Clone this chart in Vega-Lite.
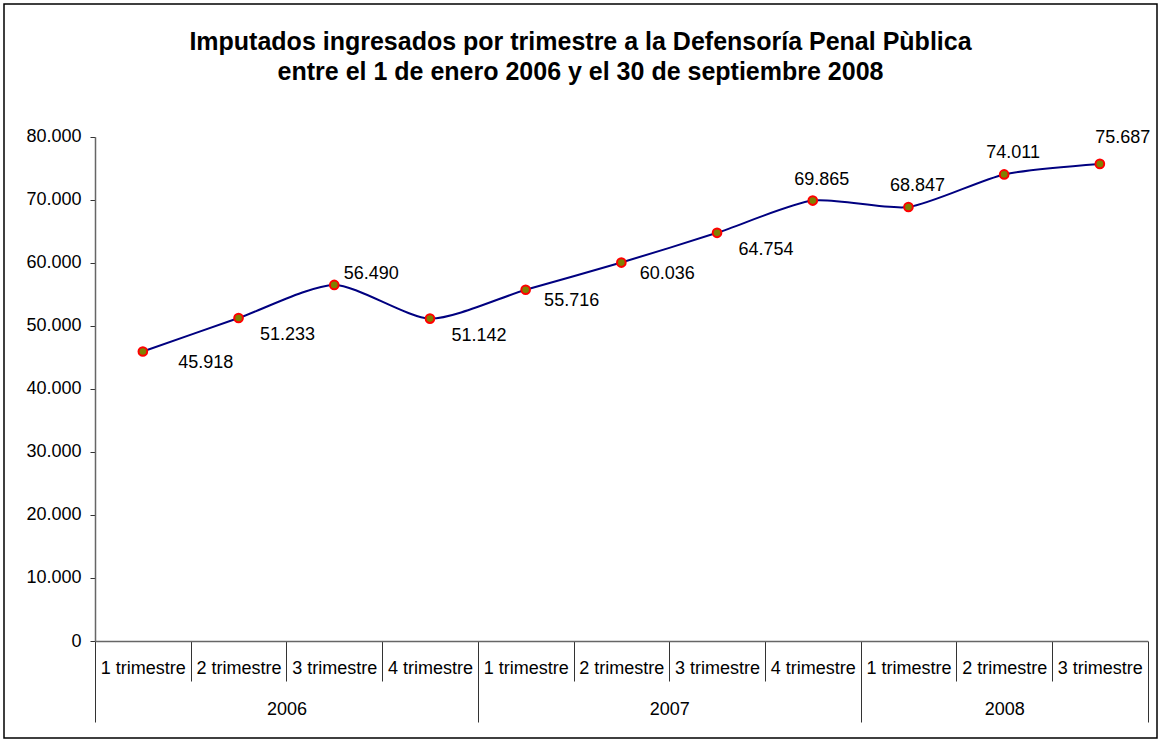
{
  "$schema": "https://vega.github.io/schema/vega-lite/v6.json",
  "autosize": {"type": "none"},
  "padding": 4,
  "width": 1153,
  "height": 734,
  "title": {
    "text": ["Imputados ingresados por trimestre a la Defensoría Penal Pùblica", "entre el 1 de enero 2006 y el 30 de septiembre 2008"],
    "anchor": "middle",
    "frame": "group",
    "baseline": "top",
    "offset": -81,
    "lineHeight": 30,
    "font": "Liberation Sans",
    "fontSize": 25,
    "fontWeight": "bold",
    "color": "#000000"
  },
  "data": {
    "values": [
      {"n": 1, "anio": 2006, "trimestre": "1 trimestre", "valor": 45918},
      {"n": 2, "anio": 2006, "trimestre": "2 trimestre", "valor": 51233},
      {"n": 3, "anio": 2006, "trimestre": "3 trimestre", "valor": 56490},
      {"n": 4, "anio": 2006, "trimestre": "4 trimestre", "valor": 51142},
      {"n": 5, "anio": 2007, "trimestre": "1 trimestre", "valor": 55716},
      {"n": 6, "anio": 2007, "trimestre": "2 trimestre", "valor": 60036},
      {"n": 7, "anio": 2007, "trimestre": "3 trimestre", "valor": 64754},
      {"n": 8, "anio": 2007, "trimestre": "4 trimestre", "valor": 69865},
      {"n": 9, "anio": 2008, "trimestre": "1 trimestre", "valor": 68847},
      {"n": 10, "anio": 2008, "trimestre": "2 trimestre", "valor": 74011},
      {"n": 11, "anio": 2008, "trimestre": "3 trimestre", "valor": 75687}
    ]
  },
  "encoding": {
    "x": {"field": "n", "type": "quantitative", "scale": {"domain": [0.5, 11.5], "range": [91, 1143.7], "nice": false, "zero": false}, "axis": null},
    "y": {
      "field": "valor", "type": "quantitative",
      "scale": {"domain": [0, 80000], "range": [637, 132.7], "nice": false},
      "axis": {"orient": "left", "offset": -91, "values": [0, 10000, 20000, 30000, 40000, 50000, 60000, 70000, 80000], "format": ",d", "title": null, "grid": false, "tickSize": 5, "labelPadding": 9, "domainColor": "#666666", "domainWidth": 1.5, "tickColor": "#333333"}
    }
  },
  "layer": [
    {
      "mark": {"type": "line", "interpolate": "cardinal", "tension": 0.3, "color": "#000080", "strokeWidth": 2},
      "encoding": {
        "x": {"field": "n", "type": "quantitative", "scale": {"domain": [0.5, 11.5], "range": [91, 1143.7], "nice": false, "zero": false},
          "axis": {"orient": "bottom", "offset": -97, "values": [0.5, 1.5, 2.5, 3.5, 4.5, 5.5, 6.5, 7.5, 8.5, 9.5, 10.5, 11.5], "labels": false, "title": null, "grid": false,
            "tickSize": {"condition": {"test": "datum.value == 0.5 || datum.value == 4.5 || datum.value == 8.5 || datum.value == 11.5", "value": 81}, "value": 40},
            "tickColor": "#333333", "domainColor": "#666666", "domainWidth": 1.5}}
      }
    },
    {
      "mark": {"type": "point", "shape": "circle", "filled": true, "fill": "#808000", "stroke": "#ff0000", "strokeWidth": 2, "size": 75, "opacity": 1},
      "encoding": {
        "x": {"field": "n", "type": "quantitative", "scale": {"domain": [0.5, 11.5], "range": [91, 1143.7], "nice": false, "zero": false},
          "axis": {"orient": "bottom", "offset": -97, "values": [1, 2, 3, 4, 5, 6, 7, 8, 9, 10, 11], "ticks": false, "tickSize": 0, "domain": false, "grid": false, "title": null,
            "labelPadding": 18, "labelFlush": false, "labelOverlap": false, "labelBound": false,
            "labelExpr": "((datum.value - 1) % 4 + 1) + ' trimestre'"}}
      }
    },
    {
      "transform": [{"filter": {"field": "n", "oneOf": [1]}}],
      "mark": {"type": "text", "dx": 63, "dy": 11, "align": "center", "baseline": "middle"},
      "encoding": {
        "x": {"field": "n", "type": "quantitative", "scale": {"domain": [0.5, 11.5], "range": [91, 1143.7], "nice": false, "zero": false},
          "axis": {"orient": "bottom", "offset": -97, "values": [2.5, 6.5, 10], "ticks": false, "tickSize": 0, "domain": false, "grid": false, "title": null,
            "labelPadding": 59, "labelFlush": false, "labelOverlap": false, "labelBound": false,
            "labelExpr": "datum.value < 4 ? '2006' : (datum.value < 8 ? '2007' : '2008')"}},
        "text": {"field": "valor", "type": "quantitative", "format": ",d"}
      }
    },
    {
      "transform": [{"filter": {"field": "n", "oneOf": [2, 4, 7]}}],
      "mark": {"type": "text", "dx": 49, "dy": 17, "align": "center", "baseline": "middle"},
      "encoding": {"text": {"field": "valor", "type": "quantitative", "format": ",d"}}
    },
    {
      "transform": [{"filter": {"field": "n", "oneOf": [5, 6]}}],
      "mark": {"type": "text", "dx": 46, "dy": 11, "align": "center", "baseline": "middle"},
      "encoding": {"text": {"field": "valor", "type": "quantitative", "format": ",d"}}
    },
    {
      "transform": [{"filter": {"field": "n", "oneOf": [3]}}],
      "mark": {"type": "text", "dx": 37, "dy": -11, "align": "center", "baseline": "middle"},
      "encoding": {"text": {"field": "valor", "type": "quantitative", "format": ",d"}}
    },
    {
      "transform": [{"filter": {"field": "n", "oneOf": [8, 9, 10]}}],
      "mark": {"type": "text", "dx": 9, "dy": -21, "align": "center", "baseline": "middle"},
      "encoding": {"text": {"field": "valor", "type": "quantitative", "format": ",d"}}
    },
    {
      "transform": [{"filter": {"field": "n", "oneOf": [11]}}],
      "mark": {"type": "text", "dx": 23, "dy": -26, "align": "center", "baseline": "middle"},
      "encoding": {"text": {"field": "valor", "type": "quantitative", "format": ",d"}}
    }
  ],
  "resolve": {"axis": {"x": "independent"}},
  "config": {
    "view": {"stroke": "#000000", "strokeWidth": 1.5},
    "locale": {"number": {"decimal": ",", "thousands": ".", "grouping": [3], "currency": ["$", ""]}},
    "axis": {"labelFont": "Liberation Sans", "labelFontSize": 18, "labelColor": "#000000", "grid": false},
    "text": {"font": "Liberation Sans", "fontSize": 18, "color": "#000000"}
  }
}
